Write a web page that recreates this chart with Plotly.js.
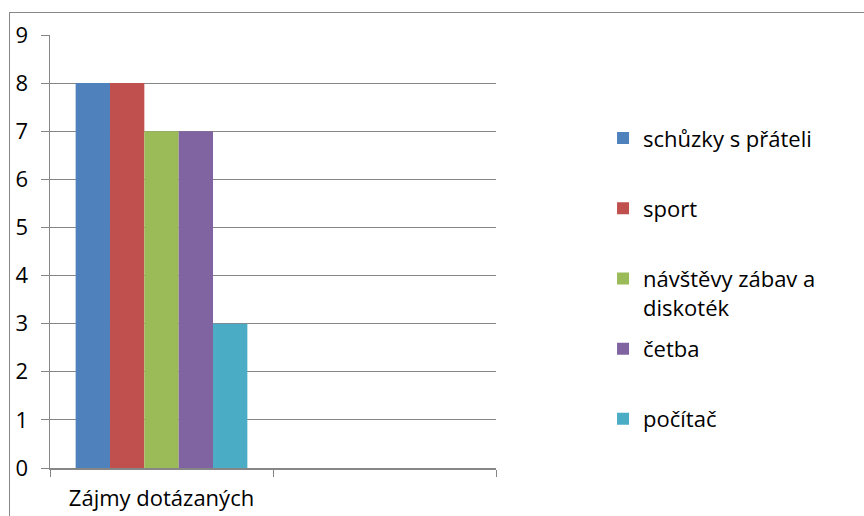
<!DOCTYPE html>
<html>
<head>
<meta charset="utf-8">
<script src="https://cdn.plot.ly/plotly-3.0.1.min.js"></script>
<style>
html,body{margin:0;padding:0;background:#fff;}
#frame{position:absolute;left:9px;top:12px;width:900px;height:600px;border-left:1.5px solid #888;border-top:1.5px solid #888;}
#chart{position:absolute;left:0;top:0;width:864px;height:516px;}
</style>
</head>
<body>
<div id="frame"></div>
<div id="chart"></div>
<script>
const categories = ["Zájmy dotázaných", " "];
const seriesNames = ["schůzky s přáteli", "sport", "návštěvy zábav a<br>diskoték", "četba", "počítač"];
const seriesValues = [8, 8, 7, 7, 3];
const seriesColors = ["#4F81BD", "#C0504D", "#9BBB59", "#8064A2", "#4BACC6"];

const traces = seriesNames.map((name, i) => ({
  type: "bar",
  name: name.indexOf("<br>") >= 0 ? name : name + "<br>\u00a0",
  x: [categories[0]],
  y: [seriesValues[i]],
  marker: {color: seriesColors[i], line: {width: 0}},
  legendgroup: "g" + i,
  hoverinfo: "y"
}));

const fontFam = "'Open Sans', sans-serif";
const layout = {
  width: 864, height: 516,
  margin: {l: 50, r: 368, t: 35, b: 48},
  paper_bgcolor: "rgba(0,0,0,0)",
  plot_bgcolor: "rgba(0,0,0,0)",
  barmode: "group",
  bargap: 0.23,
  bargroupgap: 0,
  font: {family: fontFam, size: 22, color: "#000"},
  xaxis: {
    type: "category",
    categoryorder: "array",
    categoryarray: categories,
    range: [-0.5, 1.5],
    tickson: "boundaries",
    ticks: "outside",
    ticklen: 7,
    tickcolor: "#868686",
    showline: true,
    linecolor: "#868686",
    linewidth: 1.5,
    showgrid: false,
    zeroline: false,
    ticklabelstandoff: 10,
    tickfont: {family: fontFam, size: 22, color: "#000"}
  },
  yaxis: {
    range: [0, 9],
    dtick: 1,
    ticks: "outside",
    ticklen: 8,
    tickcolor: "#868686",
    showline: true,
    linecolor: "#868686",
    linewidth: 1.5,
    gridcolor: "#868686",
    gridwidth: 1.2,
    zeroline: false,
    ticklabelstandoff: 8,
    tickfont: {family: fontFam, size: 22, color: "#000"}
  },
  showlegend: true,
  legend: {
    x: 1.24, xanchor: "left",
    y: 0.81, yanchor: "top",
    valign: "top",
    traceorder: "grouped",
    tracegroupgap: 10,
    font: {family: fontFam, size: 22, color: "#000"},
    bgcolor: "rgba(0,0,0,0)"
  }
};

Plotly.newPlot("chart", traces, layout, {displayModeBar: false, staticPlot: true});
</script>
</body>
</html>
